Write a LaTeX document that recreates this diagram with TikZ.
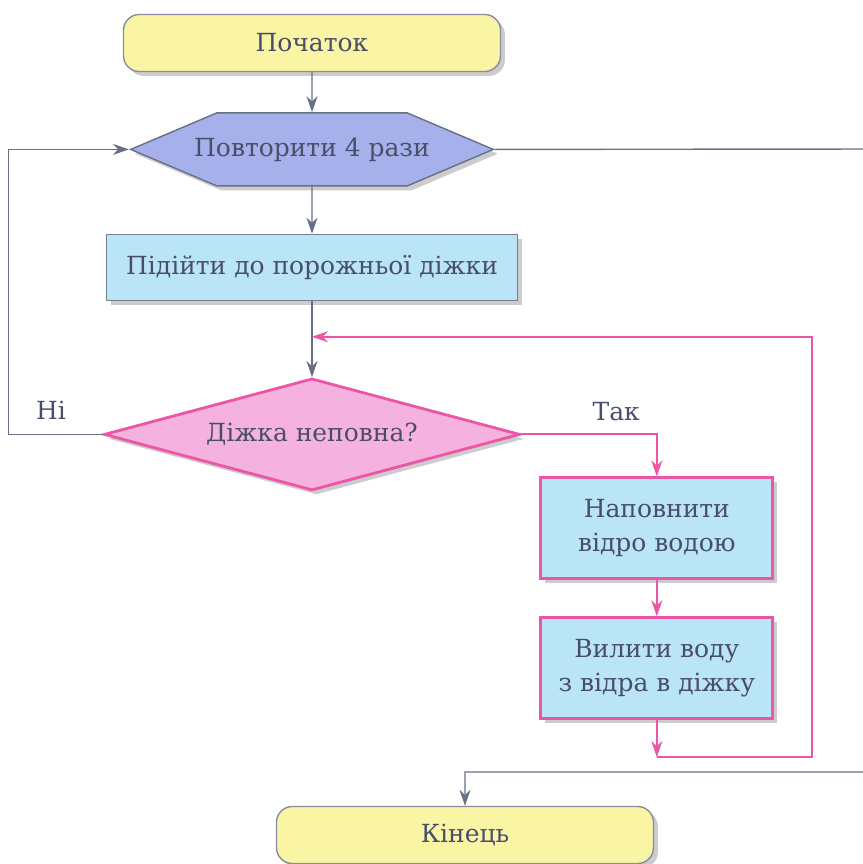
\documentclass[tikz,border=0pt]{standalone}
\usepackage{fontspec}
\setmainfont{DejaVu Serif}
\definecolor{inkgray}{RGB}{72, 78, 106}
\definecolor{linegray}{RGB}{104, 112, 134}
\definecolor{startyellow}{RGB}{250, 245, 165}
\definecolor{loopblue}{RGB}{166, 176, 234}
\definecolor{stepcyan}{RGB}{186, 229, 246}
\definecolor{condpink}{RGB}{246, 178, 222}
\definecolor{medpink}{RGB}{236, 86, 166}
\usetikzlibrary{arrows.meta, positioning, shapes.geometric, shapes.symbols, shadows, calc}
\tikzset{
	softshadow/.style={drop shadow={shadow xshift=2.5pt, shadow yshift=-2.5pt, opacity=0.2, fill=black}},
	terminal/.style={rectangle, rounded corners=9pt, draw=linegray!80, fill=startyellow, line width=0.8pt, minimum width=7.54cm, minimum height=1.14cm, font=\fontsize{14.2}{17}\selectfont, text=inkgray, softshadow},
	loophex/.style={signal, signal to=west and east, signal pointer angle=46, draw=linegray, fill=loopblue, line width=0.8pt, inner xsep=-0.45cm, minimum height=1.46cm, font=\fontsize{14.2}{17}\selectfont, text=inkgray, softshadow},
	stepbox/.style={rectangle, draw=linegray!90, fill=stepcyan, line width=0.8pt, minimum width=8.22cm, minimum height=1.32cm, font=\fontsize{14.2}{17}\selectfont, text=inkgray, softshadow},
	pinkbox/.style={rectangle, draw=medpink, fill=stepcyan, line width=1.6pt, align=center, minimum width=4.64cm, minimum height=2.02cm, font=\fontsize{14.2}{19.5}\selectfont, text=inkgray, softshadow},
	cond/.style={diamond, aspect=3.71, inner sep=0pt, draw=medpink, fill=condpink, line width=1.6pt, minimum width=8.32cm, minimum height=2.24cm, font=\fontsize{14.2}{17}\selectfont, text=inkgray, softshadow},
	label/.style={font=\fontsize{14.2}{17}\selectfont, text=inkgray},
	arrow/.style={-{Stealth[length=3.2mm, width=2.2mm]}, line width=0.8pt, draw=linegray},
	pinkarrow/.style={-{Stealth[length=3.2mm, width=2.2mm]}, line width=1.1pt, draw=medpink},
}

\begin{document}
\begin{tikzpicture}
	\useasboundingbox (0,0) rectangle (17.26,-17.28);
	\node[terminal] (start) at (6.24,-0.86) {Початок};
	\node[loophex, below=0.8cm of start] (repeat) {Повторити 4 рази};
	\node[stepbox, below=0.94cm of repeat] (walk) {Підійти до порожньої діжки};
	\node[cond, below=1.52cm of walk] (notfull) {Діжка неповна?};
	\node[pinkbox, below right=0.84cm and 0.36cm of notfull.east] (fill) {Наповнити\\відро водою};
	\node[pinkbox, below=0.72cm of fill] (pour) {Вилити воду\\з відра в діжку};
	\node[terminal] (finish) at (9.3,-16.7) {Кінець};
	\coordinate (loopin) at ($(walk.south)!0.47!(notfull.north)$);
	\coordinate (join) at ($(pour.south)+(0,-0.74)$);
	% main column
	\draw[arrow] (start) -- (repeat);
	\draw[arrow] (repeat) -- (walk);
	\draw[arrow] (walk) -- (notfull);
	% branches
	\draw[arrow] (notfull.west) -- node[label, above=5pt, pos=0.55] {Ні} ++(-1.88,0) |- (repeat.west);
	\draw[pinkarrow] (notfull.east) -| node[label, above=4pt, pos=0.35] {Так} (fill.north);
	\draw[pinkarrow] (fill) -- (pour);
	\draw[pinkarrow] (pour) -- (join);
	\draw[pinkarrow] (join) -- ++(3.1,0) |- (loopin);
	% exit of the loop
	\draw[arrow] (repeat.east) -- (17.6,-2.98) -- (17.6,-15.44) -| (finish.north);
\end{tikzpicture}
\end{document}
